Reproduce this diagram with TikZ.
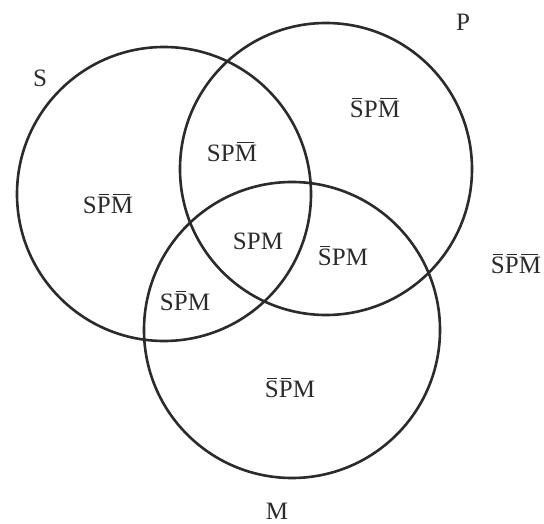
\documentclass[tikz,border=0pt]{standalone}
\usepackage{fontspec}
\setmainfont{Liberation Serif}
\newcommand\ob[1]{\leavevmode\setbox0=\hbox{#1}\dimen0=\wd0\rlap{\kern0.12\dimen0\raisebox{\dimexpr\ht0+0.09em\relax}{\rule{0.76\dimen0}{0.055em}}}\box0}
\definecolor{ink}{HTML}{2B2B2B}
\begin{document}
\begin{tikzpicture}[x=1pt,y=-1pt,
  setcircle/.style={circle, draw=ink, line width=2.6pt, inner sep=0pt},
  lbl/.style={font=\fontsize{25}{28}\selectfont, text=ink, inner sep=0pt}]
\useasboundingbox[fill=white] (0,0) rectangle (544,524);
\node[setcircle, minimum size=294pt] (cS) at (164,194) {};
\node[setcircle, minimum size=292pt] (cP) at (326,169) {};
\node[setcircle, minimum size=296pt] (cM) at (292,330) {};
\node[lbl] (lS) at (40,78) {S};
\node[lbl] (lP) at (463,22) {P};
\node[lbl] (lM) at (277,511) {M};
\node[lbl] (r1) at (375,108) {\ob{S}P\ob{M}};
\node[lbl] (r2) at (232,152) {SP\ob{M}};
\node[lbl] (r3) at (108,204) {S\ob{P}\ob{M}};
\node[lbl] (r4) at (258,241) {SPM};
\node[lbl] (r5) at (343,256) {\ob{S}PM};
\node[lbl] (r6) at (516,264) {\ob{S}\ob{P}\ob{M}};
\node[lbl] (r7) at (185,301) {S\ob{P}M};
\node[lbl] (r8) at (290,388) {\ob{S}\ob{P}M};
\end{tikzpicture}
\end{document}
